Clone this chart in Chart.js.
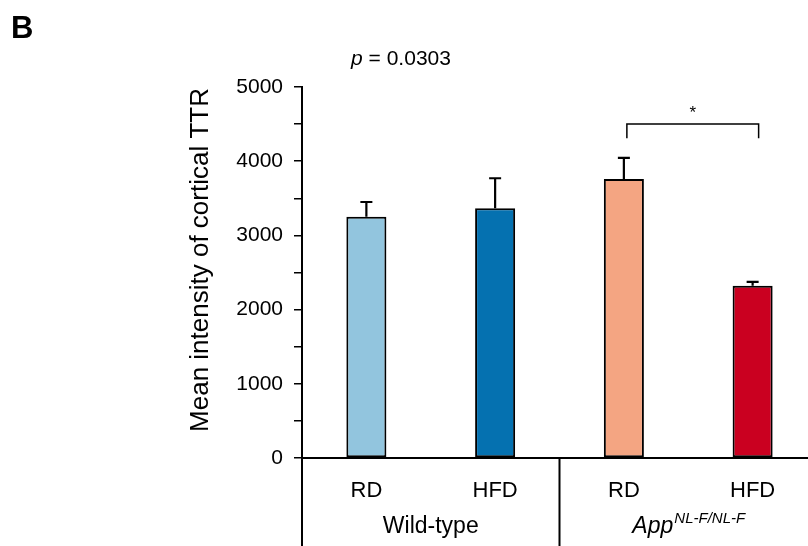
<!DOCTYPE html>
<html>
<head>
<meta charset="utf-8">
<script src="https://cdn.jsdelivr.net/npm/chart.js@4"></script>
<style>
html,body{margin:0;padding:0;background:#fff;overflow:hidden;}
canvas{display:block;}
</style>
</head>
<body>
<canvas id="c" width="820" height="546"></canvas>
<script>
// ---- data ----
const categories = ['RD', 'HFD', 'RD', 'HFD'];
const groupLabels = ['Wild-type', 'App'];
const groupSuperscript = 'NL-F/NL-F';
const meanValues = [3250, 3365, 3760, 2320];
const semValues = [200, 405, 285, 55];
const barColors = ['#92c5de', '#0571b0', '#f4a582', '#ca0020'];
const yTickValues = [0, 1000, 2000, 3000, 4000, 5000];
const pValueText = '0.0303';
const sigPair = [2, 3];
const sigBracketTop = 4500;
const sigBracketBottom = 4310;

const FONT = '"Liberation Sans", Arial, sans-serif';

const extras = {
  id: 'extras',
  afterDatasetsDraw(chart) {
    const ctx = chart.ctx;
    const x = chart.scales.x, y = chart.scales.y;
    const area = chart.chartArea;
    const meta = chart.getDatasetMeta(0);
    ctx.save();
    // error bars (upper)
    ctx.strokeStyle = '#000';
    ctx.lineWidth = 2.2;
    meta.data.forEach((bar, i) => {
      const top = y.getPixelForValue(meanValues[i]);
      const et = y.getPixelForValue(meanValues[i] + semValues[i]);
      ctx.beginPath();
      ctx.moveTo(bar.x, top);
      ctx.lineTo(bar.x, et);
      ctx.moveTo(bar.x - 6, et);
      ctx.lineTo(bar.x + 6, et);
      ctx.stroke();
    });
    // axis extensions
    const bottom = chart.height;
    const div = (x.getPixelForValue(1) + x.getPixelForValue(2)) / 2;
    ctx.lineWidth = 2;
    ctx.beginPath();
    ctx.moveTo(area.left, area.bottom);
    ctx.lineTo(area.left, bottom);
    ctx.moveTo(div, area.bottom);
    ctx.lineTo(div, bottom);
    ctx.moveTo(area.left, area.bottom);
    ctx.lineTo(chart.width, area.bottom);
    ctx.stroke();
    // group labels
    ctx.fillStyle = '#000';
    ctx.textBaseline = 'alphabetic';
    ctx.textAlign = 'center';
    ctx.font = '23px ' + FONT;
    const gy = 533;
    ctx.fillText(groupLabels[0], (area.left + div) / 2, gy);
    const c2 = (div + area.right) / 2;
    ctx.font = 'italic 23px ' + FONT;
    const w1 = ctx.measureText(groupLabels[1]).width;
    ctx.font = 'italic 15px ' + FONT;
    const w2 = ctx.measureText(groupSuperscript).width;
    const sx = c2 - (w1 + w2) / 2;
    ctx.textAlign = 'left';
    ctx.font = 'italic 23px ' + FONT;
    ctx.fillText(groupLabels[1], sx, gy);
    ctx.font = 'italic 15px ' + FONT;
    ctx.fillText(groupSuperscript, sx + w1 + 1, gy - 10);
    // significance bracket
    const bx1 = x.getPixelForValue(sigPair[0]) + 3;
    const bx2 = x.getPixelForValue(sigPair[1]) + 6;
    const byT = y.getPixelForValue(sigBracketTop);
    const byB = y.getPixelForValue(sigBracketBottom);
    ctx.lineWidth = 1.5;
    ctx.beginPath();
    ctx.moveTo(bx1, byB);
    ctx.lineTo(bx1, byT);
    ctx.lineTo(bx2, byT);
    ctx.lineTo(bx2, byB);
    ctx.stroke();
    ctx.textAlign = 'center';
    ctx.font = '17px ' + FONT;
    ctx.fillText('*', (bx1 + bx2) / 2, byT - 6);
    // p value
    ctx.font = 'italic 21px ' + FONT;
    const pw = ctx.measureText('p').width;
    ctx.font = '21px ' + FONT;
    const rest = ' = ' + pValueText;
    const rw = ctx.measureText(rest).width;
    const pcx = 401;
    const px0 = pcx - (pw + rw) / 2;
    ctx.textAlign = 'left';
    ctx.font = 'italic 21px ' + FONT;
    ctx.fillText('p', px0, 65);
    ctx.font = '21px ' + FONT;
    ctx.fillText(rest, px0 + pw, 65);
    // panel letter
    ctx.font = 'bold 31px ' + FONT;
    ctx.fillText('B', 11, 38);
    // y title
    ctx.translate(208, 260);
    ctx.rotate(-Math.PI / 2);
    ctx.textAlign = 'center';
    ctx.font = '26px ' + FONT;
    ctx.fillText('Mean intensity of cortical TTR', 0, 0);
    ctx.restore();
  }
};

new Chart(document.getElementById('c'), {
  type: 'bar',
  data: {
    labels: categories,
    datasets: [{
      data: meanValues,
      backgroundColor: barColors,
      borderColor: '#000',
      borderWidth: 2,
      borderSkipped: false,
      categoryPercentage: 1,
      barPercentage: 0.311
    }]
  },
  options: {
    responsive: false,
    animation: false,
    layout: { padding: { top: 87, right: 3, left: 0, bottom: 0 } },
    plugins: { legend: { display: false }, tooltip: { enabled: false } },
    scales: {
      x: {
        afterFit(s) { s.height = 88; },
        grid: { display: false, drawTicks: false },
        border: { display: false },
        ticks: { color: '#000', font: { family: FONT, size: 22 }, padding: 20 }
      },
      y: {
        min: 0, max: 5000,
        afterFit(s) { s.width = 302; },
        afterBuildTicks(s) {
          const t = [];
          for (let v = 0; v <= 5000; v += 500) t.push({ value: v });
          s.ticks = t;
        },
        grid: { drawOnChartArea: false, drawTicks: true, tickLength: 8, color: '#000', lineWidth: 1.5 },
        border: { display: true, color: '#000', width: 2 },
        ticks: {
          color: '#000', autoSkip: false, padding: 11,
          font: { family: FONT, size: 21 },
          callback: (v) => yTickValues.includes(v) ? String(v) : ''
        }
      }
    }
  },
  plugins: [extras]
});
</script>
</body>
</html>
